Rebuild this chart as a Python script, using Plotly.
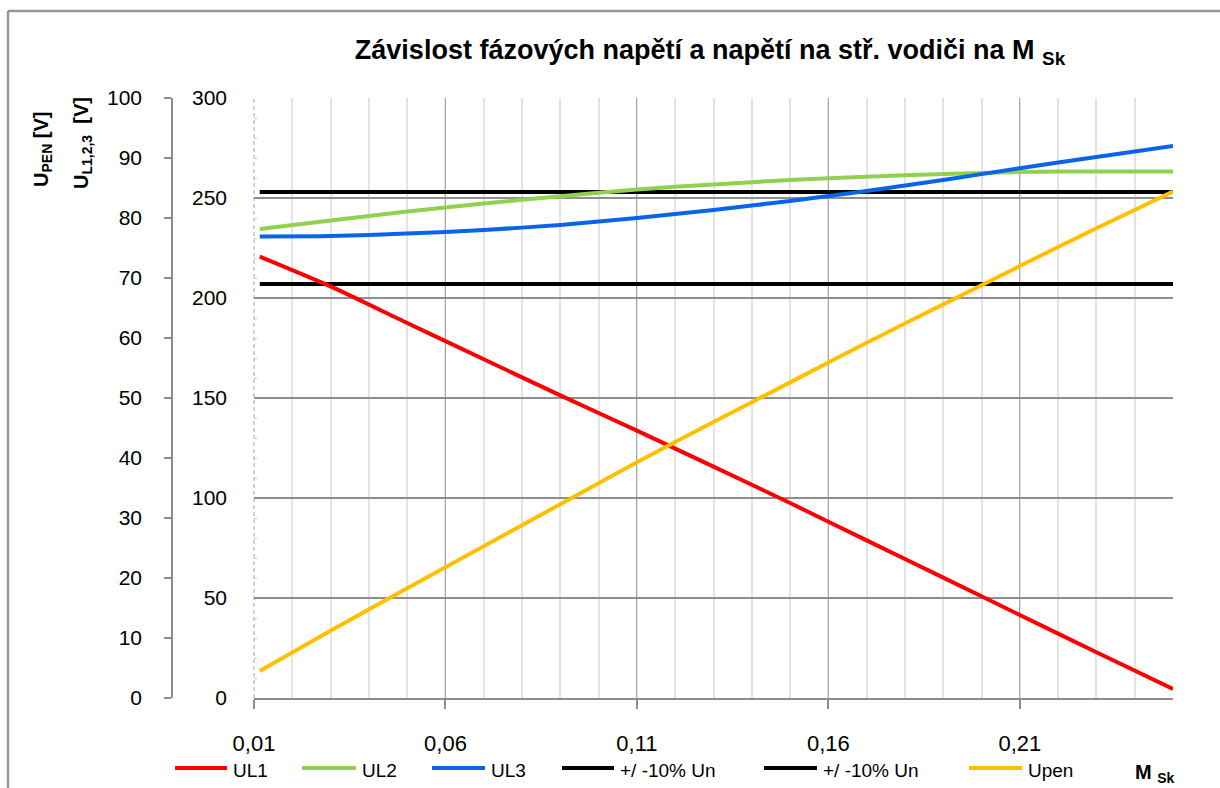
import plotly.graph_objects as go

# Poměr M_Sk (osa x)
M_SK = [0.0115, 0.03, 0.05, 0.07, 0.09, 0.11, 0.13, 0.15, 0.17, 0.19, 0.21, 0.23, 0.25]

# Fázová napětí [V] (osa 0-300)
UL1 = [220.7, 205.8, 187.5, 169.4, 151.3, 133.7, 115.7, 97.5, 78.8, 60.2, 41.5, 22.9, 4.5]
UL2 = [234.5, 238.8, 243.2, 247.2, 250.9, 254.3, 256.8, 259.0, 260.6, 262.0, 263.0, 263.3, 263.2]
UL3 = [230.8, 231.0, 232.2, 234.0, 236.5, 240.0, 244.0, 248.5, 253.5, 259.0, 264.9, 270.5, 276.0]

# Napětí na středním vodiči [V] (osa 0-100)
UPEN = [4.5, 11.2, 18.3, 25.3, 32.3, 39.3, 46.0, 52.6, 59.2, 65.6, 72.0, 78.3, 84.4]

# Meze +/-10 % Un (Un = 230 V)
U_HIGH = 253
U_LOW = 207

X_TICKS = [0.01, 0.06, 0.11, 0.16, 0.21]
X_TICK_LABELS = ["0,01", "0,06", "0,11", "0,16", "0,21"]

NAMES = ["UL1", "UL2", "UL3", "+/ -10% Un", "+/ -10% Un", "Upen"]
COLORS = ["#FF0000", "#92D050", "#0A64E8", "#000000", "#000000", "#FFC000"]

W, H = 1220, 788
ML, MR, MT, MB = 150, 47, 98, 90
PW = W - ML - MR
PH = H - MT - MB
FONT = "Liberation Sans, Arial, sans-serif"


def px_x(px):
    return (px - ML) / PW


def px_y(py):
    return (H - MB - py) / PH


fig = go.Figure()

n = len(M_SK)
fig.add_trace(go.Scatter(x=M_SK, y=[U_HIGH] * n, mode="lines", name=NAMES[3],
                         line=dict(color=COLORS[3], width=4)))
fig.add_trace(go.Scatter(x=M_SK, y=[U_LOW] * n, mode="lines", name=NAMES[4],
                         line=dict(color=COLORS[4], width=4)))
for name, ys, col in zip(NAMES[:3], [UL1, UL2, UL3], COLORS[:3]):
    fig.add_trace(go.Scatter(x=M_SK, y=ys, mode="lines", name=name,
                             line=dict(color=col, width=4, shape="spline", smoothing=0.6)))
fig.add_trace(go.Scatter(x=M_SK, y=UPEN, mode="lines", name=NAMES[5], yaxis="y2",
                         line=dict(color=COLORS[5], width=4, shape="spline", smoothing=0.8)))

fig.update_layout(
    width=W, height=H,
    margin=dict(l=ML, r=MR, t=MT, b=MB),
    paper_bgcolor="white", plot_bgcolor="white",
    showlegend=False,
    font=dict(family=FONT, size=20, color="black"),
    title=dict(
        text="<b>Závislost fázových napětí a napětí na stř. vodiči na M <sub>Sk</sub></b>",
        x=710 / W, xanchor="center", xref="container",
        y=1 - 50 / H, yanchor="middle", yref="container",
        font=dict(family=FONT, size=27, color="black"),
    ),
    xaxis=dict(
        domain=[px_x(254), 1],
        range=[0.01, 0.25],
        tickmode="array", tickvals=X_TICKS, ticktext=X_TICK_LABELS,
        showgrid=True, gridcolor="#A6A6A6", gridwidth=1,
        ticks="outside", ticklen=9, tickwidth=1.5, tickcolor="#8C8C8C",
        ticklabelstandoff=16,
        tickfont=dict(size=22),
        showline=True, linecolor="#8C8C8C", linewidth=2,
        zeroline=False,
        minor=dict(tick0=0.01, dtick=0.01, showgrid=True, gridcolor="#E4E4E4",
                   gridwidth=2, ticks=""),
    ),
    yaxis=dict(
        range=[0, 300], dtick=50, tick0=0,
        showgrid=True, gridcolor="#8E8E8E", gridwidth=2,
        showline=False, zeroline=False,
        ticks="", ticklabelstandoff=26,
        tickfont=dict(size=21),
        minor=dict(dtick=10, tick0=0, ticks="inside", ticklen=3,
                   tickcolor="#C8C8C8", tickwidth=1, showgrid=False),
    ),
    yaxis2=dict(
        range=[0, 100], dtick=10, tick0=0,
        overlaying="y", anchor="free", position=px_x(172), side="left",
        showgrid=False, zeroline=False,
        showline=True, linecolor="#8C8C8C", linewidth=1.5,
        ticks="outside", ticklen=7, tickcolor="#8C8C8C", tickwidth=1.5,
        ticklabelstandoff=18,
        tickfont=dict(size=21),
    ),
)

shapes = []
# levá hrana plochy grafu: přerušovaná světle šedá osa
shapes.append(dict(type="line", xref="paper", yref="paper",
                   x0=px_x(254), x1=px_x(254), y0=0, y1=1,
                   line=dict(color="white", width=3), layer="between"))
shapes.append(dict(type="line", xref="paper", yref="paper",
                   x0=px_x(254), x1=px_x(254), y0=0, y1=1,
                   line=dict(color="#C4C4C4", width=1.5, dash="4px,3px"), layer="between"))
# rámeček celého grafu
shapes.append(dict(type="line", xref="paper", yref="paper",
                   x0=px_x(8), x1=px_x(W + 10), y0=px_y(11), y1=px_y(11),
                   line=dict(color="#979797", width=2.5)))
shapes.append(dict(type="line", xref="paper", yref="paper",
                   x0=px_x(8), x1=px_x(8), y0=px_y(11), y1=px_y(H + 10),
                   line=dict(color="#979797", width=2.5)))

# legenda pod grafem
LEG_X = [(175, 227), (302, 356), (432, 485), (562, 614), (764, 817), (969, 1022)]
LEG_Y = 768
annotations = []
for (x0, x1), name, col in zip(LEG_X, NAMES, COLORS):
    shapes.append(dict(type="line", xref="paper", yref="paper",
                       x0=px_x(x0), x1=px_x(x1), y0=px_y(LEG_Y), y1=px_y(LEG_Y),
                       line=dict(color=col, width=4)))
    annotations.append(dict(text=name, xref="paper", yref="paper",
                            x=px_x(x1 + 4), y=px_y(LEG_Y + 2),
                            xanchor="left", yanchor="middle", showarrow=False,
                            font=dict(size=19, color="black")))

# popisky os
annotations.append(dict(text="<b>M <sub>Sk</sub></b>", xref="paper", yref="paper",
                        x=px_x(1133), y=px_y(773), xanchor="left", yanchor="middle",
                        showarrow=False, font=dict(size=20, color="black")))
annotations.append(dict(text="<b>U<sub>PEN</sub> [V]</b>", xref="paper", yref="paper",
                        x=px_x(42), y=px_y(150), xanchor="center", yanchor="middle",
                        textangle=-90, showarrow=False, font=dict(size=20, color="black")))
annotations.append(dict(text="<b>U<sub>L1,2,3</sub>&nbsp; [V]</b>", xref="paper", yref="paper",
                        x=px_x(83), y=px_y(143), xanchor="center", yanchor="middle",
                        textangle=-90, showarrow=False, font=dict(size=20, color="black")))

fig.update_layout(shapes=shapes, annotations=annotations)

fig.write_html("out.html")
